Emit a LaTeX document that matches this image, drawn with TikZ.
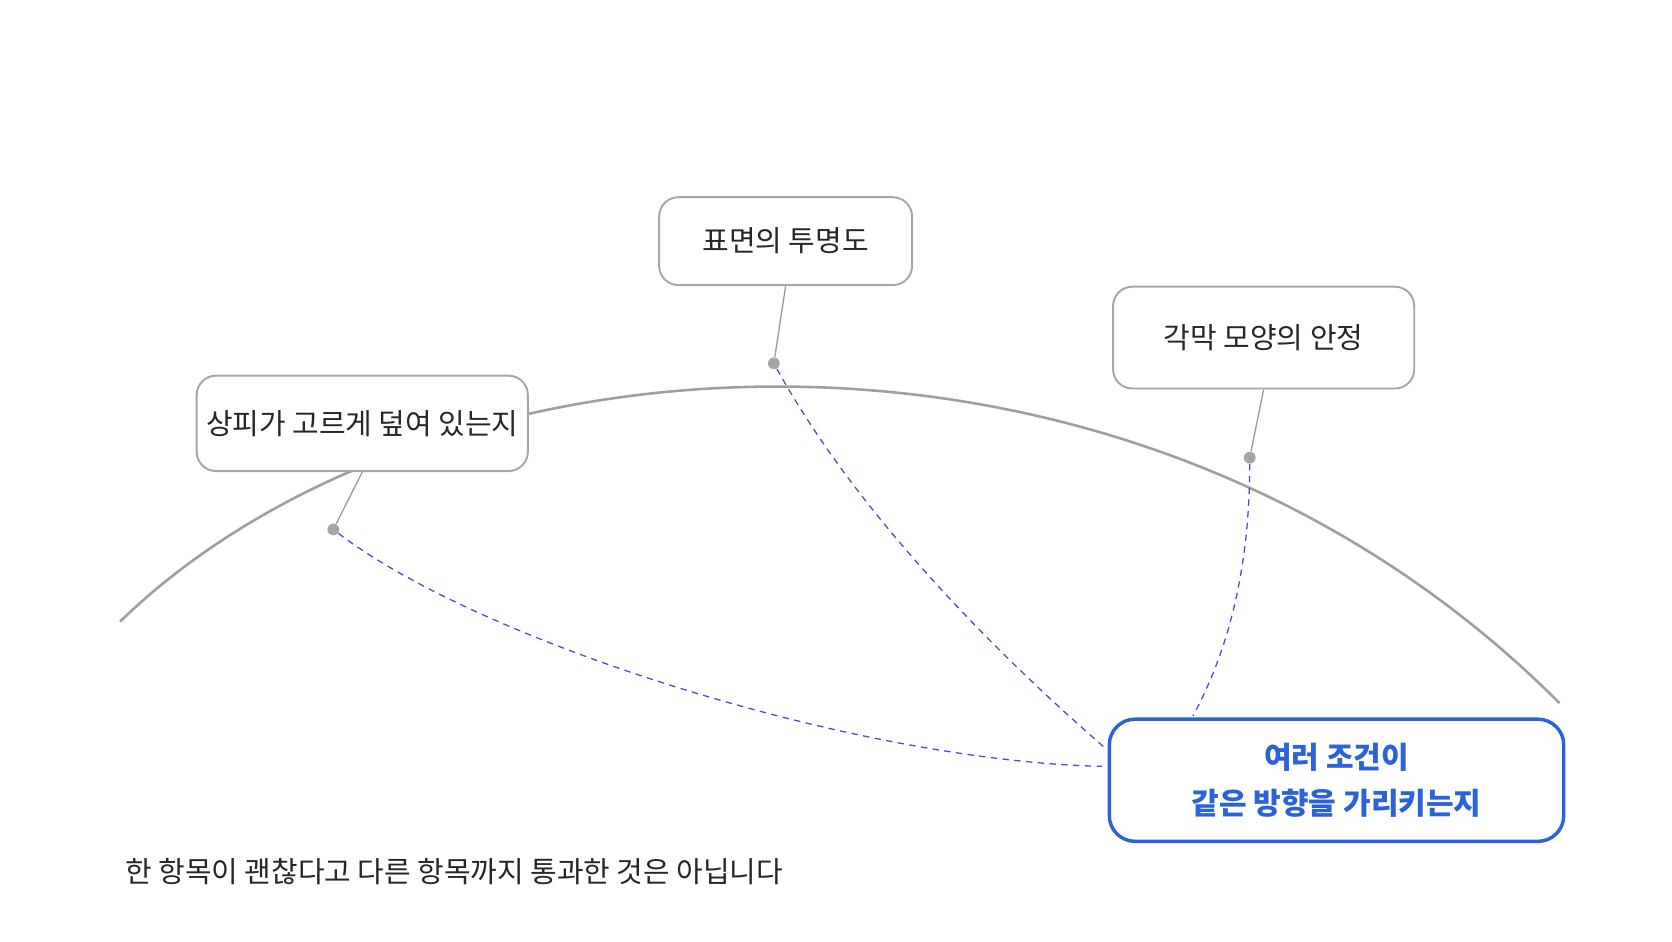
\documentclass[tikz,border=0pt]{standalone}
\usepackage{fontspec}
\setmainfont{Noto Sans CJK KR}
\begin{document}
\begin{tikzpicture}[x=0.5pt,y=-0.5pt,
 box/.style={draw=gray!70, line width=0.9pt, rounded corners=9pt, fill=white, inner sep=0pt, text=black!85, font=\fontsize{13.5}{16}\selectfont},
 dot/.style={circle, fill=gray!70, inner sep=0pt, minimum size=5.5pt},
 stem/.style={draw=gray!80, line width=0.6pt},
 link/.style={draw=blue!55!gray!90, dashed, line width=0.6pt, dash pattern=on 3pt off 2.5pt}]
\definecolor{bl}{HTML}{2B62D9}
\useasboundingbox (0,0) rectangle (1560,878);
\draw[gray!75, line width=1.2pt] (112,580) .. controls (400,300) and (1050,250) .. (1455,656);
\node[dot] (d1) at (311,494) {};
\node[dot] (d2) at (722,339) {};
\node[dot] (d3) at (1166,427) {};
\node[box, minimum width=154.5pt, minimum height=44.5pt] (b1) at (338,395) {상피가 고르게 덮여 있는지};
\node[box, minimum width=118pt, minimum height=41pt] (b2) at (733,225) {표면의 투명도};
\node[box, minimum width=140.5pt, minimum height=47.5pt] (b3) at (1179,315) {각막 모양의 안정};
\node[draw=bl, line width=1.6pt, rounded corners=12pt, fill=white, minimum width=212pt, minimum height=57pt, align=center, text=bl, font=\bfseries\fontsize{14}{21}\selectfont] (t) at (1247,728) {여러 조건이\\같은 방향을 가리키는지};
\coordinate (e1) at (1028,715);
\coordinate (e2) at (1030,697);
\coordinate (e3) at (1113,668);
\draw[stem] (b1.south) -- (d1);
\draw[stem] (b2.south) -- (d2);
\draw[stem] (b3.south) -- (d3);
\draw[link] (d1) .. controls (450,600) and (800,710) .. (e1);
\draw[link] (d2) .. controls (800,480) and (930,610) .. (e2);
\draw[link] (d3) .. controls (1166,520) and (1150,600) .. (e3);
\node[anchor=west, text=black!85, font=\fontsize{13.5}{16}\selectfont] (c) at (110,813) {한 항목이 괜찮다고 다른 항목까지 통과한 것은 아닙니다};
\end{tikzpicture}
\end{document}
